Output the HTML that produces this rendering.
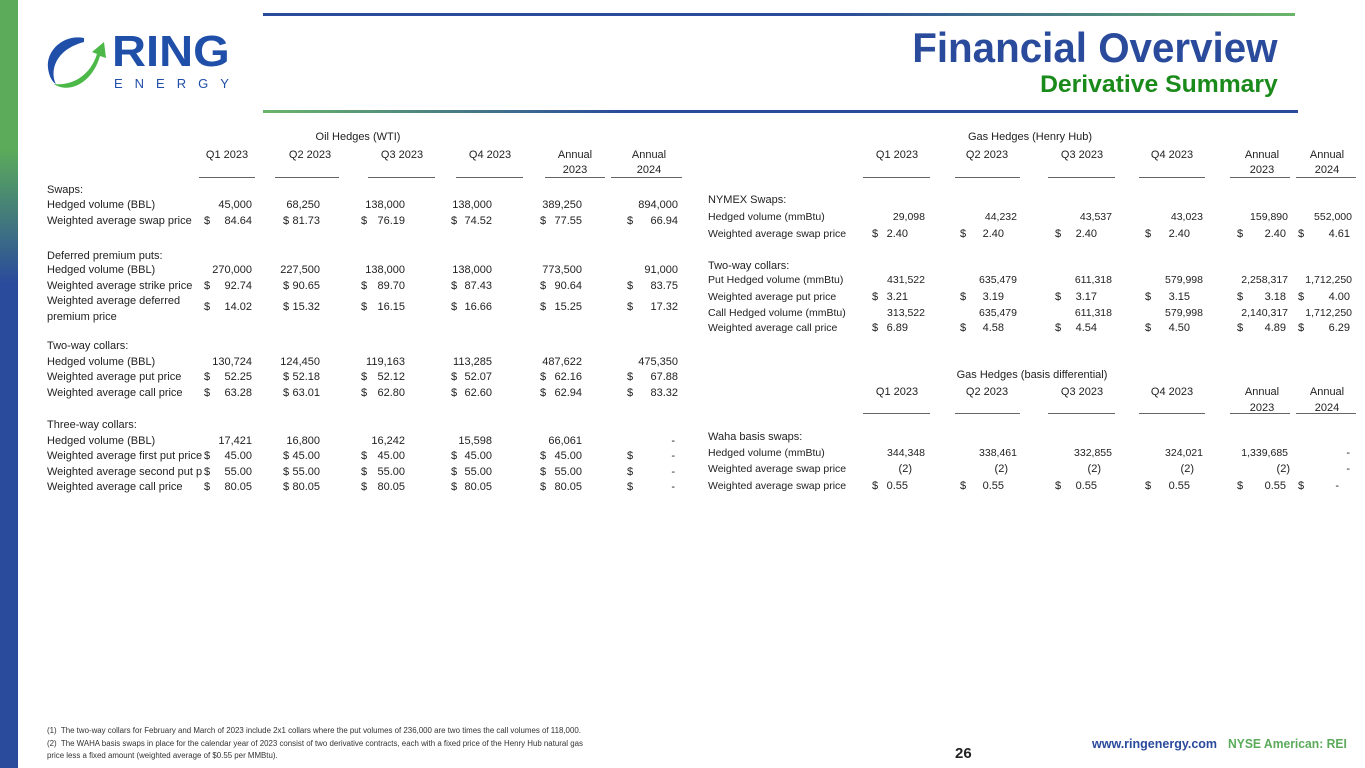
<!DOCTYPE html>
<html><head><meta charset="utf-8"><style>
*{margin:0;padding:0}
body{width:1365px;height:768px;position:relative;overflow:hidden;background:#fff;font-family:"Liberation Sans",Arial,sans-serif;color:#222}
.a{position:absolute;font-size:11px;line-height:14px;white-space:nowrap}
.r{position:absolute;font-size:11px;line-height:14px;white-space:nowrap;text-align:right}
.c{position:absolute;font-size:11px;line-height:14px;white-space:nowrap;transform:translateX(-50%)}
.u{position:absolute;height:1px;background:#666}
.f{position:absolute;font-size:7.9px;line-height:9px;white-space:nowrap;color:#333;left:47px}
.s{font-size:10.5px}
</style></head><body>
<div style="position:absolute;left:0;top:0;width:18px;height:768px;background:linear-gradient(#5bab5b 0,#5bab5b 150px,#2a4a9c 285px,#2a4a9c 100%)"></div>
<div style="position:absolute;left:263px;top:13px;width:1032px;height:3px;background:linear-gradient(90deg,#2a4a9c 0,#2a4a9c 55%,#6ab56a 100%)"></div>
<div style="position:absolute;left:263px;top:110px;width:1035px;height:3px;background:linear-gradient(90deg,#6ab56a 0,#2a4a9c 35%,#2a4a9c 100%)"></div>
<svg style="position:absolute;left:44px;top:32px" width="70" height="62" viewBox="0 0 70 62">
<path d="M40 6 C20 2 2 18 4 36 C5 44 8 50 12 52 C6 40 10 18 40 10 Z" fill="#1f4fa8"/>
<path d="M10 52 C24 62 48 52 56 24 L62 26 L60 10 L48 20 L53 22 C46 44 28 54 10 52 Z" fill="#4cb848"/>
</svg>
<div style="position:absolute;left:112px;top:30px;font:bold 44px/44px 'Liberation Sans',sans-serif;color:#1f4fa8;transform:scaleX(1.07);transform-origin:left">RING</div>
<div style="position:absolute;left:114px;top:77px;font:13px/13px 'Liberation Sans',sans-serif;color:#1f4fa8;letter-spacing:12px">ENERGY</div>
<div style="position:absolute;right:87px;top:24px;font:bold 42px/48px 'Liberation Sans',sans-serif;color:#2a4a9c;transform:scaleX(0.96);transform-origin:right">Financial Overview</div>
<div style="position:absolute;right:87px;top:71px;font:bold 24px/28px 'Liberation Sans',sans-serif;color:#1a8a1a;transform:scaleX(1.03);transform-origin:right">Derivative Summary</div>

<!-- LEFT TABLE -->
<div class="c" style="left:358px;top:130px">Oil Hedges (WTI)</div>
<div class="c" style="left:227px;top:148px">Q1 2023</div>
<div class="c" style="left:310px;top:148px">Q2 2023</div>
<div class="c" style="left:402px;top:148px">Q3 2023</div>
<div class="c" style="left:490px;top:148px">Q4 2023</div>
<div class="c" style="left:575px;top:148px">Annual</div>
<div class="c" style="left:649px;top:148px">Annual</div>
<div class="c" style="left:575px;top:163px">2023</div>
<div class="c" style="left:649px;top:163px">2024</div>
<div class="u" style="left:199px;width:56px;top:177px"></div>
<div class="u" style="left:275px;width:64px;top:177px"></div>
<div class="u" style="left:368px;width:67px;top:177px"></div>
<div class="u" style="left:456px;width:67px;top:177px"></div>
<div class="u" style="left:545px;width:60px;top:177px"></div>
<div class="u" style="left:611px;width:71px;top:177px"></div>

<div class="a" style="left:47px;top:183px">Swaps:</div>
<div class="a" style="left:47px;top:198px">Hedged volume (BBL)</div>
<div class="r" style="right:1113px;top:198px">45,000</div><div class="r" style="right:1045px;top:198px">68,250</div><div class="r" style="right:960px;top:198px">138,000</div><div class="r" style="right:873px;top:198px">138,000</div><div class="r" style="right:783px;top:198px">389,250</div><div class="r" style="right:687px;top:198px">894,000</div>
<div class="a" style="left:47px;top:214px">Weighted average swap price</div>
<div class="a" style="left:204px;top:214px">$</div><div class="a" style="left:283px;top:214px">$</div><div class="a" style="left:361px;top:214px">$</div><div class="a" style="left:451px;top:214px">$</div><div class="a" style="left:540px;top:214px">$</div><div class="a" style="left:627px;top:214px">$</div>
<div class="r" style="right:1113px;top:214px">84.64</div><div class="r" style="right:1045px;top:214px">81.73</div><div class="r" style="right:960px;top:214px">76.19</div><div class="r" style="right:873px;top:214px">74.52</div><div class="r" style="right:783px;top:214px">77.55</div><div class="r" style="right:687px;top:214px">66.94</div>

<div class="a" style="left:47px;top:249px">Deferred premium puts:</div>
<div class="a" style="left:47px;top:263px">Hedged volume (BBL)</div>
<div class="r" style="right:1113px;top:263px">270,000</div><div class="r" style="right:1045px;top:263px">227,500</div><div class="r" style="right:960px;top:263px">138,000</div><div class="r" style="right:873px;top:263px">138,000</div><div class="r" style="right:783px;top:263px">773,500</div><div class="r" style="right:687px;top:263px">91,000</div>
<div class="a" style="left:47px;top:279px">Weighted average strike price</div>
<div class="a" style="left:204px;top:279px">$</div><div class="a" style="left:283px;top:279px">$</div><div class="a" style="left:361px;top:279px">$</div><div class="a" style="left:451px;top:279px">$</div><div class="a" style="left:540px;top:279px">$</div><div class="a" style="left:627px;top:279px">$</div>
<div class="r" style="right:1113px;top:279px">92.74</div><div class="r" style="right:1045px;top:279px">90.65</div><div class="r" style="right:960px;top:279px">89.70</div><div class="r" style="right:873px;top:279px">87.43</div><div class="r" style="right:783px;top:279px">90.64</div><div class="r" style="right:687px;top:279px">83.75</div>
<div class="a" style="left:47px;top:294px">Weighted average deferred</div>
<div class="a" style="left:47px;top:310px">premium price</div>
<div class="a" style="left:204px;top:300px">$</div><div class="a" style="left:283px;top:300px">$</div><div class="a" style="left:361px;top:300px">$</div><div class="a" style="left:451px;top:300px">$</div><div class="a" style="left:540px;top:300px">$</div><div class="a" style="left:627px;top:300px">$</div>
<div class="r" style="right:1113px;top:300px">14.02</div><div class="r" style="right:1045px;top:300px">15.32</div><div class="r" style="right:960px;top:300px">16.15</div><div class="r" style="right:873px;top:300px">16.66</div><div class="r" style="right:783px;top:300px">15.25</div><div class="r" style="right:687px;top:300px">17.32</div>

<div class="a" style="left:47px;top:339px">Two-way collars:</div>
<div class="a" style="left:47px;top:355px">Hedged volume (BBL)</div>
<div class="r" style="right:1113px;top:355px">130,724</div><div class="r" style="right:1045px;top:355px">124,450</div><div class="r" style="right:960px;top:355px">119,163</div><div class="r" style="right:873px;top:355px">113,285</div><div class="r" style="right:783px;top:355px">487,622</div><div class="r" style="right:687px;top:355px">475,350</div>
<div class="a" style="left:47px;top:370px">Weighted average put price</div>
<div class="a" style="left:204px;top:370px">$</div><div class="a" style="left:283px;top:370px">$</div><div class="a" style="left:361px;top:370px">$</div><div class="a" style="left:451px;top:370px">$</div><div class="a" style="left:540px;top:370px">$</div><div class="a" style="left:627px;top:370px">$</div>
<div class="r" style="right:1113px;top:370px">52.25</div><div class="r" style="right:1045px;top:370px">52.18</div><div class="r" style="right:960px;top:370px">52.12</div><div class="r" style="right:873px;top:370px">52.07</div><div class="r" style="right:783px;top:370px">62.16</div><div class="r" style="right:687px;top:370px">67.88</div>
<div class="a" style="left:47px;top:386px">Weighted average call price</div>
<div class="a" style="left:204px;top:386px">$</div><div class="a" style="left:283px;top:386px">$</div><div class="a" style="left:361px;top:386px">$</div><div class="a" style="left:451px;top:386px">$</div><div class="a" style="left:540px;top:386px">$</div><div class="a" style="left:627px;top:386px">$</div>
<div class="r" style="right:1113px;top:386px">63.28</div><div class="r" style="right:1045px;top:386px">63.01</div><div class="r" style="right:960px;top:386px">62.80</div><div class="r" style="right:873px;top:386px">62.60</div><div class="r" style="right:783px;top:386px">62.94</div><div class="r" style="right:687px;top:386px">83.32</div>

<div class="a" style="left:47px;top:418px">Three-way collars:</div>
<div class="a" style="left:47px;top:434px">Hedged volume (BBL)</div>
<div class="r" style="right:1113px;top:434px">17,421</div><div class="r" style="right:1045px;top:434px">16,800</div><div class="r" style="right:960px;top:434px">16,242</div><div class="r" style="right:873px;top:434px">15,598</div><div class="r" style="right:783px;top:434px">66,061</div><div class="r" style="right:690px;top:434px">-</div>
<div class="a" style="left:47px;top:449px;width:155px;overflow:hidden">Weighted average first put price</div>
<div class="a" style="left:47px;top:465px;width:155px;overflow:hidden">Weighted average second put price</div>
<div class="a" style="left:47px;top:480px">Weighted average call price</div>
<div class="a" style="left:204px;top:449px">$</div><div class="a" style="left:283px;top:449px">$</div><div class="a" style="left:361px;top:449px">$</div><div class="a" style="left:451px;top:449px">$</div><div class="a" style="left:540px;top:449px">$</div><div class="a" style="left:627px;top:449px">$</div>
<div class="r" style="right:1113px;top:449px">45.00</div><div class="r" style="right:1045px;top:449px">45.00</div><div class="r" style="right:960px;top:449px">45.00</div><div class="r" style="right:873px;top:449px">45.00</div><div class="r" style="right:783px;top:449px">45.00</div><div class="r" style="right:690px;top:449px">-</div>
<div class="a" style="left:204px;top:465px">$</div><div class="a" style="left:283px;top:465px">$</div><div class="a" style="left:361px;top:465px">$</div><div class="a" style="left:451px;top:465px">$</div><div class="a" style="left:540px;top:465px">$</div><div class="a" style="left:627px;top:465px">$</div>
<div class="r" style="right:1113px;top:465px">55.00</div><div class="r" style="right:1045px;top:465px">55.00</div><div class="r" style="right:960px;top:465px">55.00</div><div class="r" style="right:873px;top:465px">55.00</div><div class="r" style="right:783px;top:465px">55.00</div><div class="r" style="right:690px;top:465px">-</div>
<div class="a" style="left:204px;top:480px">$</div><div class="a" style="left:283px;top:480px">$</div><div class="a" style="left:361px;top:480px">$</div><div class="a" style="left:451px;top:480px">$</div><div class="a" style="left:540px;top:480px">$</div><div class="a" style="left:627px;top:480px">$</div>
<div class="r" style="right:1113px;top:480px">80.05</div><div class="r" style="right:1045px;top:480px">80.05</div><div class="r" style="right:960px;top:480px">80.05</div><div class="r" style="right:873px;top:480px">80.05</div><div class="r" style="right:783px;top:480px">80.05</div><div class="r" style="right:690px;top:480px">-</div>

<!-- RIGHT TABLE 1 -->
<div class="c" style="left:1030px;top:130px">Gas Hedges (Henry Hub)</div>
<div class="c" style="left:897px;top:148px">Q1 2023</div>
<div class="c" style="left:987px;top:148px">Q2 2023</div>
<div class="c" style="left:1082px;top:148px">Q3 2023</div>
<div class="c" style="left:1172px;top:148px">Q4 2023</div>
<div class="c" style="left:1262px;top:148px">Annual</div>
<div class="c" style="left:1327px;top:148px">Annual</div>
<div class="c" style="left:1262px;top:163px">2023</div>
<div class="c" style="left:1327px;top:163px">2024</div>
<div class="u" style="left:863px;width:67px;top:177px"></div>
<div class="u" style="left:955px;width:65px;top:177px"></div>
<div class="u" style="left:1048px;width:67px;top:177px"></div>
<div class="u" style="left:1139px;width:66px;top:177px"></div>
<div class="u" style="left:1230px;width:60px;top:177px"></div>
<div class="u" style="left:1296px;width:60px;top:177px"></div>

<div class="a" style="left:708px;top:193px">NYMEX Swaps:</div>
<div class="a s" style="left:708px;top:210px">Hedged volume (mmBtu)</div>
<div class="r s" style="right:440px;top:210px">29,098</div><div class="r s" style="right:348px;top:210px">44,232</div><div class="r s" style="right:253px;top:210px">43,537</div><div class="r s" style="right:162px;top:210px">43,023</div><div class="r s" style="right:77px;top:210px">159,890</div><div class="r s" style="right:13px;top:210px">552,000</div>
<div class="a s" style="left:708px;top:227px">Weighted average swap price</div>
<div class="a" style="left:872px;top:227px">$</div><div class="a" style="left:960px;top:227px">$</div><div class="a" style="left:1055px;top:227px">$</div><div class="a" style="left:1145px;top:227px">$</div><div class="a" style="left:1237px;top:227px">$</div><div class="a" style="left:1298px;top:227px">$</div>
<div class="r" style="right:457px;top:227px">2.40</div><div class="r" style="right:361px;top:227px">2.40</div><div class="r" style="right:268px;top:227px">2.40</div><div class="r" style="right:175px;top:227px">2.40</div><div class="r" style="right:79px;top:227px">2.40</div><div class="r" style="right:15px;top:227px">4.61</div>

<div class="a" style="left:708px;top:259px">Two-way collars:</div>
<div class="a s" style="left:708px;top:273px">Put Hedged volume (mmBtu)</div>
<div class="r s" style="right:440px;top:273px">431,522</div><div class="r s" style="right:348px;top:273px">635,479</div><div class="r s" style="right:253px;top:273px">611,318</div><div class="r s" style="right:162px;top:273px">579,998</div><div class="r s" style="right:77px;top:273px">2,258,317</div><div class="r s" style="right:13px;top:273px">1,712,250</div>
<div class="a s" style="left:708px;top:290px">Weighted average put price</div>
<div class="a" style="left:872px;top:290px">$</div><div class="a" style="left:960px;top:290px">$</div><div class="a" style="left:1055px;top:290px">$</div><div class="a" style="left:1145px;top:290px">$</div><div class="a" style="left:1237px;top:290px">$</div><div class="a" style="left:1298px;top:290px">$</div>
<div class="r" style="right:457px;top:290px">3.21</div><div class="r" style="right:361px;top:290px">3.19</div><div class="r" style="right:268px;top:290px">3.17</div><div class="r" style="right:175px;top:290px">3.15</div><div class="r" style="right:79px;top:290px">3.18</div><div class="r" style="right:15px;top:290px">4.00</div>
<div class="a s" style="left:708px;top:306px">Call Hedged volume (mmBtu)</div>
<div class="r s" style="right:440px;top:306px">313,522</div><div class="r s" style="right:348px;top:306px">635,479</div><div class="r s" style="right:253px;top:306px">611,318</div><div class="r s" style="right:162px;top:306px">579,998</div><div class="r s" style="right:77px;top:306px">2,140,317</div><div class="r s" style="right:13px;top:306px">1,712,250</div>
<div class="a s" style="left:708px;top:321px">Weighted average call price</div>
<div class="a" style="left:872px;top:321px">$</div><div class="a" style="left:960px;top:321px">$</div><div class="a" style="left:1055px;top:321px">$</div><div class="a" style="left:1145px;top:321px">$</div><div class="a" style="left:1237px;top:321px">$</div><div class="a" style="left:1298px;top:321px">$</div>
<div class="r" style="right:457px;top:321px">6.89</div><div class="r" style="right:361px;top:321px">4.58</div><div class="r" style="right:268px;top:321px">4.54</div><div class="r" style="right:175px;top:321px">4.50</div><div class="r" style="right:79px;top:321px">4.89</div><div class="r" style="right:15px;top:321px">6.29</div>

<!-- RIGHT TABLE 2 -->
<div class="c" style="left:1032px;top:368px">Gas Hedges (basis differential)</div>
<div class="c" style="left:897px;top:385px">Q1 2023</div>
<div class="c" style="left:987px;top:385px">Q2 2023</div>
<div class="c" style="left:1082px;top:385px">Q3 2023</div>
<div class="c" style="left:1172px;top:385px">Q4 2023</div>
<div class="c" style="left:1262px;top:385px">Annual</div>
<div class="c" style="left:1327px;top:385px">Annual</div>
<div class="c" style="left:1262px;top:401px">2023</div>
<div class="c" style="left:1327px;top:401px">2024</div>
<div class="u" style="left:863px;width:67px;top:413px"></div>
<div class="u" style="left:955px;width:65px;top:413px"></div>
<div class="u" style="left:1048px;width:67px;top:413px"></div>
<div class="u" style="left:1139px;width:66px;top:413px"></div>
<div class="u" style="left:1230px;width:60px;top:413px"></div>
<div class="u" style="left:1296px;width:60px;top:413px"></div>

<div class="a" style="left:708px;top:430px">Waha basis swaps:</div>
<div class="a s" style="left:708px;top:446px">Hedged volume (mmBtu)</div>
<div class="r s" style="right:440px;top:446px">344,348</div><div class="r s" style="right:348px;top:446px">338,461</div><div class="r s" style="right:253px;top:446px">332,855</div><div class="r s" style="right:162px;top:446px">324,021</div><div class="r s" style="right:77px;top:446px">1,339,685</div><div class="r" style="right:15px;top:446px">-</div>
<div class="a s" style="left:708px;top:462px">Weighted average swap price</div>
<div class="r" style="right:453px;top:462px">(2)</div><div class="r" style="right:357px;top:462px">(2)</div><div class="r" style="right:264px;top:462px">(2)</div><div class="r" style="right:171px;top:462px">(2)</div><div class="r" style="right:75px;top:462px">(2)</div><div class="r" style="right:15px;top:462px">-</div>
<div class="a s" style="left:708px;top:479px">Weighted average swap price</div>
<div class="a" style="left:872px;top:479px">$</div><div class="a" style="left:960px;top:479px">$</div><div class="a" style="left:1055px;top:479px">$</div><div class="a" style="left:1145px;top:479px">$</div><div class="a" style="left:1237px;top:479px">$</div><div class="a" style="left:1298px;top:479px">$</div>
<div class="r" style="right:457px;top:479px">0.55</div><div class="r" style="right:361px;top:479px">0.55</div><div class="r" style="right:268px;top:479px">0.55</div><div class="r" style="right:175px;top:479px">0.55</div><div class="r" style="right:79px;top:479px">0.55</div><div class="r" style="right:26px;top:479px">-</div>

<!-- FOOTER -->
<div class="f" style="top:726px">(1)&nbsp; The two-way collars for February and March of 2023 include 2x1 collars where the put volumes of 236,000 are two times the call volumes of 118,000.</div>
<div class="f" style="top:739px">(2)&nbsp; The WAHA basis swaps in place for the calendar year of 2023 consist of two derivative contracts, each with a fixed price of the Henry Hub natural gas</div>
<div class="f" style="top:751px">price less a fixed amount (weighted average of $0.55 per MMBtu).</div>
<div style="position:absolute;left:955px;top:745px;font:bold 15px/18px 'Liberation Sans',sans-serif;color:#222">26</div>
<div style="position:absolute;left:1092px;top:737px;font:bold 12.5px/14px 'Liberation Sans',sans-serif;color:#2a4a9c">www.ringenergy.com</div>
<div style="position:absolute;left:1228px;top:737px;font:bold 12.5px/14px 'Liberation Sans',sans-serif;color:#5bab5b;transform:scaleX(0.97);transform-origin:left">NYSE American: REI</div>
</body></html>
